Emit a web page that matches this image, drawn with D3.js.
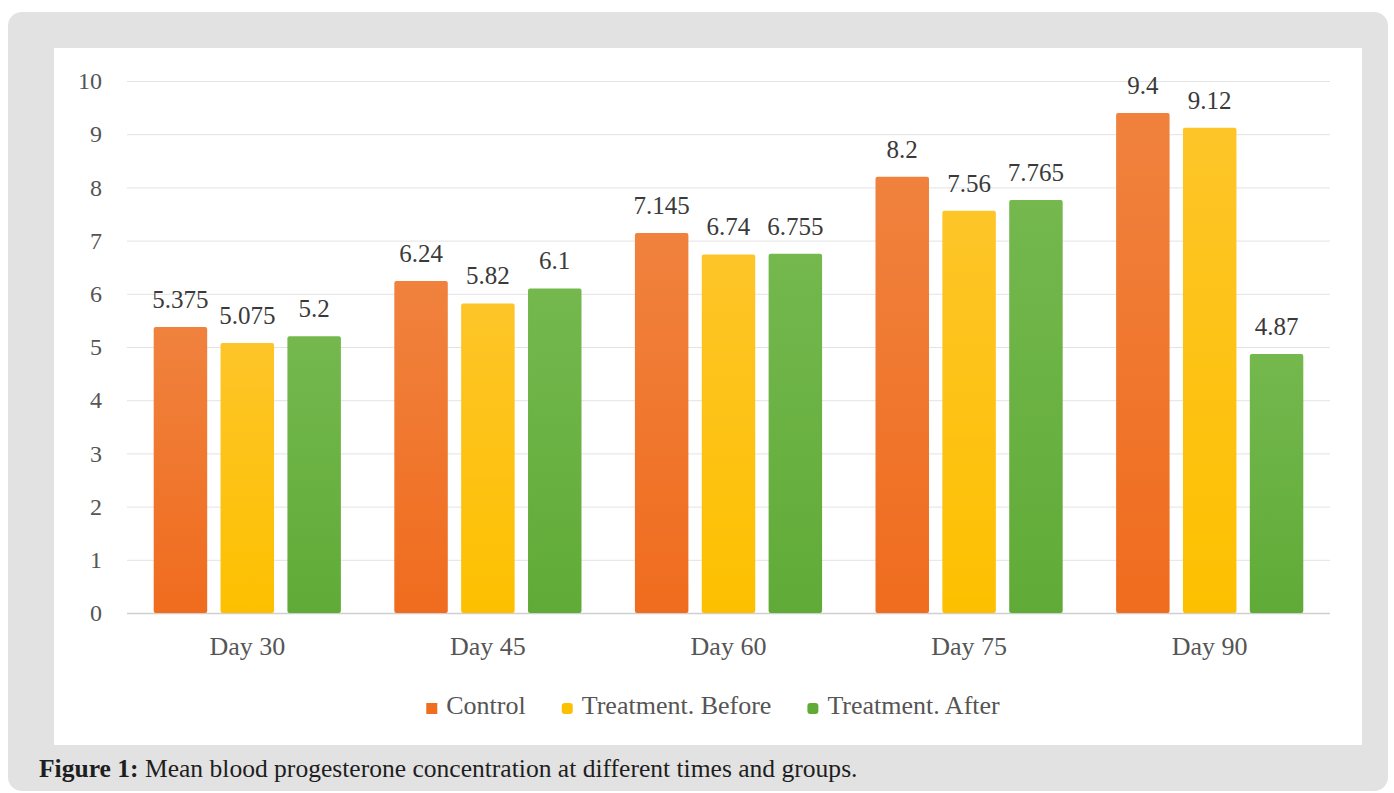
<!DOCTYPE html>
<html lang="en">

<head>
    <meta charset="UTF-8">
    <style>
        body { margin: 0; background: #fff; }
        svg text { font-family: "Liberation Serif", "Times New Roman", serif; }
    </style>
</head>

<body>
    <svg width="1394" height="793"></svg>
    <script src="https://d3js.org/d3.v7.min.js"></script>
    <script>
        // chart values
        let categories = ["Day 30", "Day 45", "Day 60", "Day 75", "Day 90"]
        let seriesNames = ["Control", "Treatment. Before", "Treatment. After"]
        let control = [5.375, 6.24, 7.145, 8.2, 9.4]
        let treatBefore = [5.075, 5.82, 6.74, 7.56, 9.12]
        let treatAfter = [5.2, 6.1, 6.755, 7.765, 4.87]
        let yTicks = [0, 1, 2, 3, 4, 5, 6, 7, 8, 9, 10]
        let captionBold = "Figure 1:"
        let captionText = " Mean blood progesterone concentration at different times and groups."

        let seriesValues = [control, treatBefore, treatAfter]
        let colors = [
            ["#f0823e", "#f06c1e"],
            ["#fdc528", "#fdc000"],
            ["#74b84e", "#60ab37"]
        ]

        var svg = d3.select("svg")

        // outer grey frame + white chart area
        svg.append("rect")
            .attr("x", 8).attr("y", 12)
            .attr("width", 1380).attr("height", 779)
            .attr("rx", 14)
            .attr("fill", "#e2e2e2")
        svg.append("rect")
            .attr("x", 54).attr("y", 48)
            .attr("width", 1308).attr("height", 697)
            .attr("fill", "#ffffff")

        var defs = svg.append("defs")
        colors.forEach(function (c, i) {
            var g = defs.append("linearGradient")
                .attr("id", "grad" + i)
                .attr("x1", 0).attr("y1", 0).attr("x2", 0).attr("y2", 1)
            g.append("stop").attr("offset", "0%").attr("stop-color", c[0])
            g.append("stop").attr("offset", "100%").attr("stop-color", c[1])
        })

        var left = 127, right = 1330
        var x0 = d3.scaleBand()
            .domain(categories)
            .range([left, right])
            .paddingInner(0.222)
            .paddingOuter(0.111)
        var x1 = d3.scaleBand()
            .domain(seriesNames)
            .range([0, x0.bandwidth()])
            .paddingInner(0.2)
        var y = d3.scaleLinear()
            .domain([0, 10])
            .range([613, 81])

        // y axis with gridlines
        var yAxis = svg.append("g")
            .attr("transform", "translate(" + left + ",0)")
            .call(d3.axisLeft(y)
                .tickValues(yTicks)
                .tickSize(-(right - left))
                .tickPadding(25)
                .tickFormat(d3.format("d")))
        yAxis.select(".domain").remove()
        yAxis.selectAll(".tick line")
            .attr("stroke", d => d == 0 ? "#cfcfcf" : "#e3e3e3")
            .attr("stroke-width", d => d == 0 ? 1.5 : 1)
        yAxis.selectAll(".tick text")
            .attr("font-size", 24)
            .attr("fill", "#555")

        // x axis labels
        var xAxis = svg.append("g")
            .attr("transform", "translate(0," + y(0) + ")")
            .call(d3.axisBottom(x0).tickSize(0).tickPadding(24))
        xAxis.select(".domain").remove()
        xAxis.selectAll(".tick text")
            .attr("font-size", 26)
            .attr("fill", "#555")

        // bars
        var groups = svg.selectAll(".grp")
            .data(categories)
            .enter().append("g")
            .attr("class", "grp")
            .attr("transform", d => "translate(" + x0(d) + ",0)")

        groups.selectAll("rect")
            .data((d, i) => seriesNames.map((s, j) => ({ s: s, j: j, v: seriesValues[j][i] })))
            .enter().append("rect")
            .attr("x", d => x1(d.s))
            .attr("y", d => y(d.v))
            .attr("width", x1.bandwidth())
            .attr("height", d => y(0) - y(d.v))
            .attr("rx", 2)
            .attr("fill", d => "url(#grad" + d.j + ")")

        groups.selectAll("text.val")
            .data((d, i) => seriesNames.map((s, j) => ({ s: s, j: j, v: seriesValues[j][i] })))
            .enter().append("text")
            .attr("class", "val")
            .attr("x", d => x1(d.s) + x1.bandwidth() / 2)
            .attr("y", d => y(d.v) - 19)
            .attr("text-anchor", "middle")
            .attr("font-size", 25)
            .attr("fill", "#3a3a3a")
            .text(d => d.v)

        // legend
        var legend = svg.append("g")
        var lx = 0
        seriesNames.forEach(function (s, i) {
            var item = legend.append("g").attr("transform", "translate(" + lx + ",0)")
            item.append("rect")
                .attr("x", 0).attr("y", -11)
                .attr("width", 11).attr("height", 11)
                .attr("rx", i == 0 ? 0 : 3)
                .attr("fill", colors[i][1])
            var t = item.append("text")
                .attr("x", 20).attr("y", 0)
                .attr("font-size", 26)
                .attr("fill", "#555")
                .text(s)
            lx += 20 + t.node().getComputedTextLength() + 36
        })
        var legendW = lx - 36
        legend.attr("transform", "translate(" + (713 - legendW / 2) + ",714)")

        // caption
        var cap = svg.append("text")
            .attr("x", 39).attr("y", 777)
            .attr("fill", "#1e1e1e")
            .attr("font-size", 22)
        cap.append("tspan").attr("font-weight", "bold").text(captionBold)
        cap.append("tspan").text(captionText)
        var cw = cap.node().getComputedTextLength()
        cap.attr("font-size", 22 * 819 / cw)
    </script>
</body>

</html>
